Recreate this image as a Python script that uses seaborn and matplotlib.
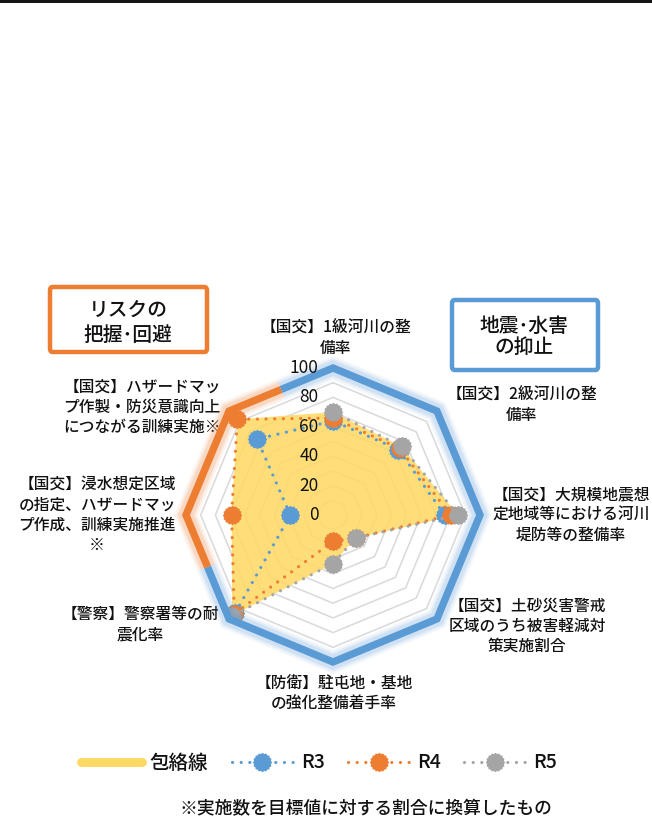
import numpy as np
import pandas as pd
import seaborn as sns
import matplotlib.pyplot as plt
from matplotlib.lines import Line2D
from matplotlib.patches import FancyBboxPatch, Rectangle
from matplotlib.path import Path

# ---- data -------------------------------------------------------------
categories = [
    "【国交】1級河川の整\n備率",
    "【国交】2級河川の整\n備率",
    "【国交】大規模地震想\n定地域等における河川\n堤防等の整備率",
    "【国交】土砂災害警戒\n区域のうち被害軽減対\n策実施割合",
    "【防衛】駐屯地・基地\nの強化整備着手率",
    "【警察】警察署等の耐\n震化率",
    "【国交】浸水想定区域\nの指定、ハザードマッ\nプ作成、訓練実施推進\n※",
    "【国交】ハザードマッ\nプ作製・防災意識向上\nにつながる訓練実施※",
]
r3 = [64, 63, 76, np.nan, np.nan, 94, 29, 73]
r4 = [66, 64, 80, 22, 18, 95, 69, 92]
r5 = [70, 66, 85, 22, 33, 97, np.nan, np.nan]
series_names = ["R3", "R4", "R5"]
envelope_name = "包絡線"
ticks = [0, 20, 40, 60, 80, 100]
group_risk = "リスクの\n把握･回避"
group_quake = "地震･水害\nの抑止"
footnote = "※実施数を目標値に対する割合に換算したもの"

# envelope = best value reached on each axis
envelope = np.nanmax(np.array([r3, r4, r5], dtype=float), axis=0)

# ---- style ------------------------------------------------------------
sns.set_theme(style="white")
plt.rcParams["font.family"] = ["Noto Sans CJK JP", "DejaVu Sans"]
NARROW = ["Liberation Sans Narrow", "Noto Sans CJK JP", "DejaVu Sans"]
INK = "#111111"

BLUE, ORANGE, GRAY = "#5B9BD5", "#ED7D31", "#A5A5A5"
YELLOW = "#FFD966"
GRID = "#D9D9D9"
DOT = (0, (0.01, 2.7))

# blob-shaped marker with a ragged rim
_a = np.linspace(0, 2 * np.pi, 33)[:-1]
_r = np.where(np.arange(32) % 2 == 0, 1.0, 0.88)
_v = np.column_stack([_r * np.cos(_a), _r * np.sin(_a)])
BLOB = Path(np.vstack([_v, _v[:1]]), closed=True)

W, H = 652, 825
fig = plt.figure(figsize=(W / 100, H / 100), dpi=100)


def px(x, y):
    return x / W, 1 - y / H


n = len(categories)
step = 2 * np.pi / n
theta = np.arange(n) * step

# radar area: centre (333, 515), radius 147 px
cx, cy, rad = 333, 515, 147
ax = fig.add_axes([(cx - rad) / W, (H - cy - rad) / H, 2 * rad / W, 2 * rad / H],
                  projection="polar")
ax.set_theta_zero_location("N")
ax.set_theta_direction(-1)
ax.set_axis_off()

closed_t = np.append(theta, 2 * np.pi)

# octagonal grid rings
for r in range(10, 100, 10):
    ax.plot(closed_t, [r] * (n + 1), color=GRID, lw=1.1, zorder=0.5)

# envelope fill
ax.fill(closed_t, np.append(envelope, envelope[0]), color=YELLOW, alpha=0.88,
        lw=0, zorder=1)


def ring_rows(values):
    """Walk round the radar, splitting into runs at missing values."""
    vals = np.asarray(values, dtype=float)
    finite = np.isfinite(vals)
    rows = []
    if finite.all():
        for k in range(n + 1):
            rows.append((k * step, vals[k % n], 0))
        return rows
    start = int(np.where(~finite)[0][0])
    seg = 0
    prev_ok = False
    for k in range(start + 1, start + 1 + n):
        i = k % n
        if finite[i]:
            rows.append((k * step, vals[i], seg))
            prev_ok = True
        elif prev_ok:
            seg += 1
            prev_ok = False
    return rows


colors = [BLUE, ORANGE, GRAY]
for name, vals, col, z in zip(series_names, [r3, r4, r5], colors, [3, 4, 5]):
    df = pd.DataFrame(ring_rows(vals), columns=["theta", "value", "seg"])
    sns.lineplot(data=df, x="theta", y="value", units="seg", estimator=None,
                 sort=False, ax=ax, color=col, lw=2.3, linestyle=DOT,
                 dash_capstyle="round", marker=BLOB, markersize=13,
                 markeredgecolor=col, markeredgewidth=0.8, legend=False,
                 zorder=z)

# outer frame at 100: orange on the risk side, blue on the deterrence side
mid_r = 100 * np.cos(step / 2)
orange_t = [theta[5] + step / 2, theta[6], theta[7], theta[7] + step / 2]
orange_r = [mid_r, 100, 100, mid_r]
blue_t = [theta[7] + step / 2] + list(theta[:6] + 2 * np.pi) + [theta[5] + step / 2 + 2 * np.pi]
blue_r = [mid_r] + [100] * 6 + [mid_r]
for tt, rr, col in [(blue_t, blue_r, BLUE), (orange_t, orange_r, ORANGE)]:
    for lw, a in [(16, 0.07), (13, 0.10), (10.5, 0.14)]:
        ax.plot(tt, rr, color=col, lw=lw, alpha=a, solid_capstyle="butt",
                solid_joinstyle="miter", clip_on=False, zorder=6)
    ax.plot(tt, rr, color=col, lw=5.3, solid_capstyle="butt",
            solid_joinstyle="miter", clip_on=False, zorder=7)

ax.set_ylim(0, 100)

# value labels along the top spoke
for t in ticks:
    ax.annotate(str(t), xy=(0, t), xytext=(-10.5, 0), textcoords="offset points",
                ha="right", va="center", fontsize=12.5, family=NARROW,
                color=INK, zorder=8)

# category labels
label_pos = [(336, 338), (522, 405), (571, 515), (527, 626),
             (334, 694), (140, 625), (97, 515), (142, 407)]
for lab, (x, y) in zip(categories, label_pos):
    ax.text(*px(x, y), lab, transform=fig.transFigure, ha="center",
            va="center", ma="center", fontsize=11.3, linespacing=1.25,
            color=INK, fontweight="medium", zorder=2)

# group boxes
for (x0, y0, x1, y1), col, txt, (tx, ty), ls in [
    ((50, 287, 207, 352), ORANGE, group_risk, (128, 323), 1.45),
    ((452, 300, 598, 370), BLUE, group_quake, (524, 337), 1.1),
]:
    fx0, fy1 = px(x0, y0)
    fx1, fy0 = px(x1, y1)
    fig.add_artist(FancyBboxPatch((fx0, fy0), fx1 - fx0, fy1 - fy0,
                                  boxstyle="round,pad=0,rounding_size=0.004",
                                  transform=fig.transFigure, fc="white",
                                  ec=col, lw=3.2))
    fig.text(*px(tx, ty), txt, ha="center", va="center", ma="center",
             fontsize=14.2, linespacing=ls, color=INK, fontweight="medium")

# legend
handles = [Line2D([], [], color=YELLOW, lw=6.5)]
for col in colors:
    handles.append(Line2D([], [], color=col, lw=2.3, linestyle=DOT,
                          dash_capstyle="round", marker=BLOB, markersize=13,
                          markeredgecolor=col, markeredgewidth=0.8))
fig.legend(handles, [envelope_name] + series_names, loc="center",
           bbox_to_anchor=px(319, 763), ncol=4, frameon=False,
           prop={"family": NARROW, "size": 14, "weight": "medium"},
           handlelength=3.15, handletextpad=0.4, columnspacing=1.2,
           numpoints=1, labelcolor=INK)

# footnote
fig.text(*px(366, 809), footnote, ha="center", va="center", fontsize=12.8,
         color=INK, fontweight="medium")

# top rule
fig.add_artist(Rectangle((0, 1 - 3 / H), 1, 3 / H, transform=fig.transFigure,
                         color="#141414", lw=0))

fig.savefig("out.png", dpi=100)
